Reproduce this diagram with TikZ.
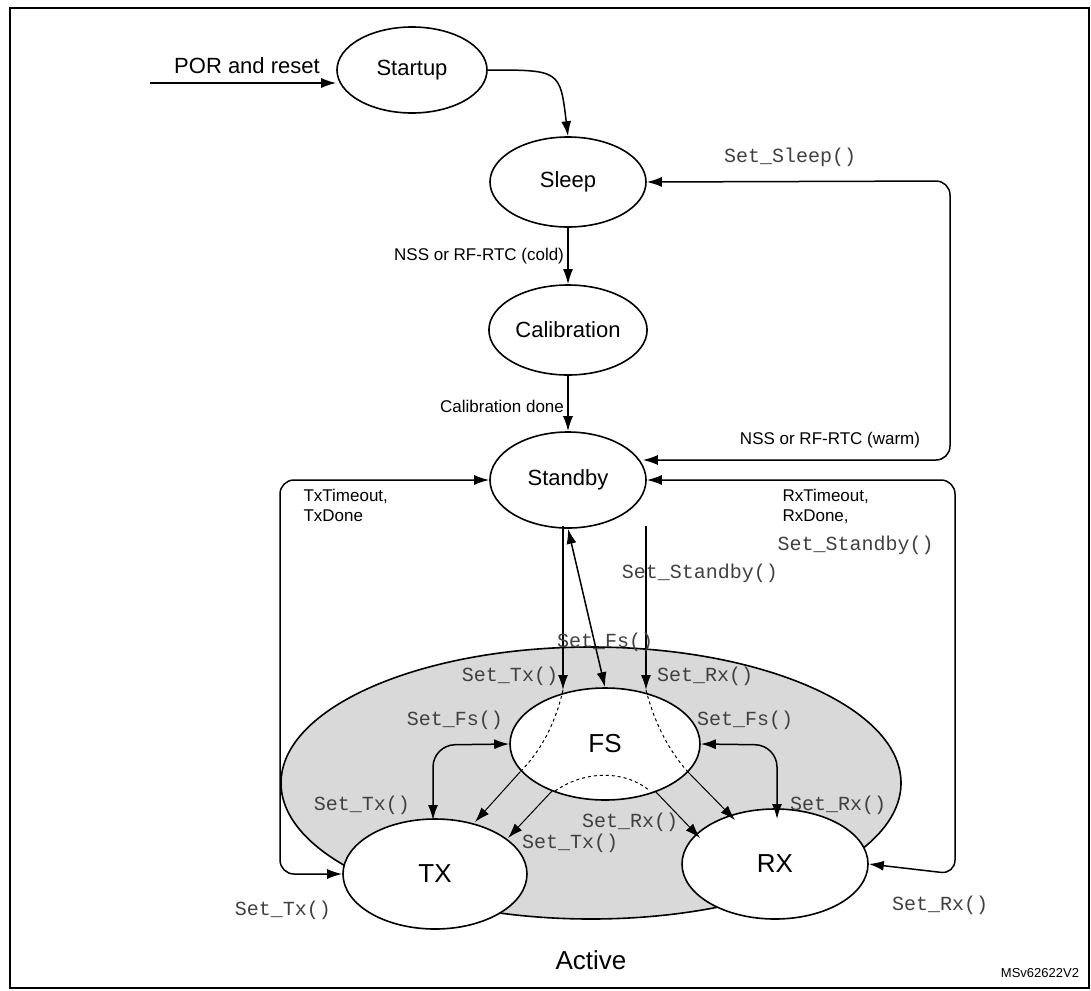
\documentclass[tikz,border=0pt]{standalone}
\usepackage{fontspec}
\setmainfont{Liberation Sans}
\setmonofont{Liberation Mono}
\usetikzlibrary{shapes,arrows.meta,positioning}
\definecolor{activegray}{rgb}{0.85,0.85,0.85}
\newcommand{\fn}[1]{{\ttfamily\fontsize{20}{22}\selectfont\color{black!75}#1}}
\begin{document}
\begin{tikzpicture}[x=1pt,y=-1pt,
        state/.style = {draw, ellipse, line width=1.6pt, fill=white, font=\fontsize{22}{24}\selectfont},
        lbl/.style   = {font=\fontsize{17}{20}\selectfont, align=left},
]
\tikzstyle{connect}=[-{Latex[length=15pt,width=10pt]}, line width=1.5pt]
\tikzstyle{both}=[{Latex[length=15pt,width=10pt]}-{Latex[length=15pt,width=10pt]}, line width=1.5pt]
\tikzstyle{thin}=[-{Latex[length=15pt,width=10pt]}, line width=1pt]

	\useasboundingbox (0,0) rectangle (1091,990);
	\draw[line width=1.2pt] (10,8) rectangle (1089,988);

	% active region
	\node[draw, ellipse, line width=1.6pt, fill=activegray, minimum width=620, minimum height=272] (act) at (591,783) {};
	\node[font=\fontsize{26}{28}\selectfont] (actl) at (591,960) {Active};

	% states
	\node[state, minimum width=150, minimum height=86] (start) at (412,70) {Startup};
	\node[state, minimum width=156, minimum height=90] (sleep) at (568,182) {Sleep};
	\node[state, minimum width=156, minimum height=90] (cal) at (568,330) {Calibration};
	\node[state, minimum width=156, minimum height=96] (stby) at (568,480) {Standby};
	\node[state, minimum width=190, minimum height=112, font=\fontsize{26}{28}\selectfont] (fs) at (605,744) {FS};
	\node[state, minimum width=184, minimum height=110, font=\fontsize{26}{28}\selectfont] (tx) at (435,874) {TX};
	\node[state, minimum width=186, minimum height=110, font=\fontsize{26}{28}\selectfont] (rx) at (775,864) {RX};

	\coordinate (por) at (150,83);
	\node[font=\fontsize{22}{24}\selectfont] (porl) at (247,66) {POR and reset};
	\draw[connect] (por) -- (start.west |- por);
	\draw[connect] (start.east) .. controls (560,70) .. (sleep.north);

	\draw[connect] (sleep) -- (cal)
		node[pos=0.5, left, lbl] {NSS or RF-RTC (cold)};
	\draw[connect] (cal) -- (stby)
		node[pos=0.55, left, lbl] {Calibration done};

	% warm wake / back to sleep
	\draw[both, rounded corners=14] (stby.east |- 0,460) ++(-4,0) -- (950,460) -- (950,181) -- (sleep.east);
	\node[lbl] (warm) at (830,440) {NSS or RF-RTC (warm)};
	\node (sslp) at (790,157) {\fn{Set\_Sleep()}};

	% tx loop
	\draw[both, rounded corners=14] (tx.west) -- (280,874) -- (280,480) -- (stby.west);
	\node[lbl, anchor=north west] (txd) at (300,486) {TxTimeout,\\TxDone};
	\node (stx) at (283,910) {\fn{Set\_Tx()}};

	% rx loop
	\draw[both, rounded corners=14] (rx.east) -- (955,874) -- (955,480) -- (stby.east);
	\node[lbl, anchor=north west] (rxd) at (779,486) {RxTimeout,\\RxDone,};
	\node[anchor=west] (sstb) at (774,545) {\fn{Set\_Standby()}};
	\node (srx) at (940,905) {\fn{Set\_Rx()}};

	% standby to active
	\coordinate (a1) at (563,526);
	\coordinate (a3) at (646,526);
	\draw[connect] (a1) -- (563,690);
	\draw[both] (stby.south) -- (fs.north);
	\draw[connect] (a3) -- (646,690);
	\node (sstb2) at (700,573) {\fn{Set\_Standby()}};
	\node (sfs) at (605,642) {\fn{Set\_Fs()}};
	\node (stx2) at (510,676) {\fn{Set\_Tx()}};
	\node (srx2) at (705,676) {\fn{Set\_Rx()}};

	% dashed paths through FS
	\draw[dashed, line width=1pt] (563,690) .. controls (555,725) and (540,752) .. (520,772);
	\draw[dashed, line width=1pt] (646,690) .. controls (655,725) and (670,752) .. (688,772);
	\draw[dashed, line width=1pt] (555,791) .. controls (585,770) and (625,770) .. (650,791);
	\coordinate (d1) at (520,772);
	\coordinate (d2) at (552,791);
	\coordinate (d3) at (655,791);
	\coordinate (d4) at (688,772);
	\draw[thin] (d1) -- (475,822);
	\draw[thin] (d2) -- (508,838);
	\draw[thin] (d3) -- (700,838);
	\draw[thin] (d4) -- (735,820);
	\node (srx3) at (630,822) {\fn{Set\_Rx()}};
	\node (stx3) at (570,843) {\fn{Set\_Tx()}};

	% fs <-> tx / rx
	\draw[both, rounded corners=22] (fs.west) -- (433,745) -- (433,820);
	\draw[both, rounded corners=22] (fs.east) -- (777,745) -- (777,819);
	\node (sfs2) at (455,720) {\fn{Set\_Fs()}};
	\node (stx4) at (362,805) {\fn{Set\_Tx()}};
	\node (sfs3) at (745,720) {\fn{Set\_Fs()}};
	\node (srx4) at (838,805) {\fn{Set\_Rx()}};

	\node[font=\fontsize{13}{15}\selectfont] (ref) at (1040,973) {MSv62622V2};
\end{tikzpicture}
\end{document}
